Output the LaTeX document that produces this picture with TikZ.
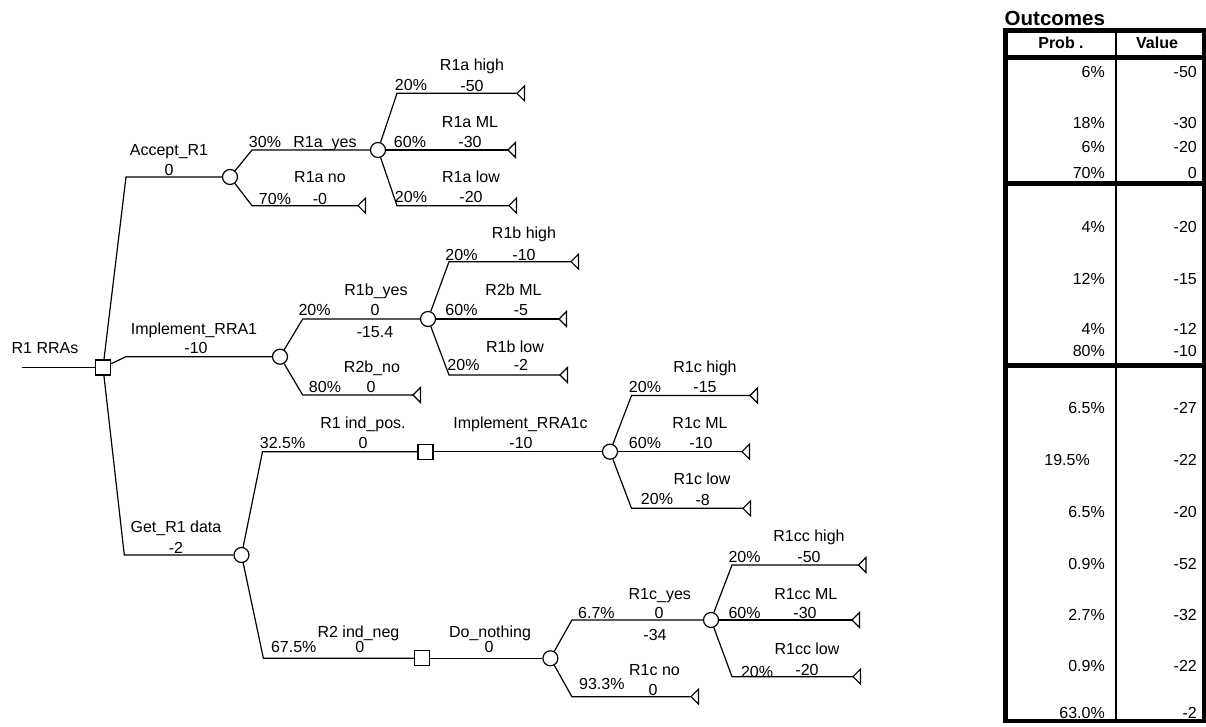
\documentclass[tikz,border=0pt]{standalone}
\usepackage{fontspec}
\setmainfont{Liberation Sans}
\usetikzlibrary{positioning}
\tikzset{
  branch/.style={line width=1.2pt, color=black},
  chance/.style={
    circle, draw, line width=1.2pt, fill=white,
    minimum size=15pt, inner sep=0pt
  },
  decision/.style={
    rectangle, draw, line width=1.2pt, fill=white,
    minimum size=15pt, inner sep=0pt
  },
  lbl/.style={
    font=\fontsize{16}{18}\selectfont, inner sep=0pt,
    text height=11.5pt, text depth=0pt
  },
  hdr/.style={lbl, font=\fontsize{16}{18}\selectfont\bfseries},
  cell/.style={lbl, anchor=east},
  term/.pic={\draw[line width=1.1pt] (0,0) -- (7.5,7.5) -- (7.5,-7.5) -- cycle;},
}
\begin{document}
\begin{tikzpicture}[x=1pt, y=-1pt]
  \useasboundingbox (0,0) rectangle (1206,727);

  % Root decision
  \node[lbl] (rtN) at (45,348) {R1 RRAs};
  \coordinate (rt) at (22,367.5);
  \node[decision] (s0) at (103,367.5) {};
  \draw[branch] (rt) -- (s0);

  % Accept_R1
  \coordinate (a0) at (126,177);
  \node[chance] (ca) at (230,177) {};
  \draw[branch] (s0) -- (a0) -- (ca);
  \node[lbl] (a0N) at (169,150) {Accept\_R1};
  \node[lbl] (a0V) at (169,170) {0};

  \coordinate (a1) at (252,150);
  \node[chance] (cb) at (378,150) {};
  \draw[branch] (ca) -- (a1) -- (cb);
  \node[lbl] (a1P) at (265,141.7) {30\%};
  \node[lbl] (a1N) at (325,141.7) {R1a\_yes};

  \coordinate (a2) at (252,205.7);
  \coordinate (ta2) at (358,205.7);
  \draw[branch] (ca) -- (a2) -- (ta2);
  \node[lbl] (a2P) at (275,199) {70\%};
  \node[lbl] (a2N) at (320,177) {R1a no};
  \node[lbl] (a2V) at (320,199) {-0};

  \coordinate (b1) at (397,93.3);
  \coordinate (tb1) at (517,93.3);
  \draw[branch] (cb) -- (b1) -- (tb1);
  \node[lbl] (b1P) at (411,85) {20\%};
  \node[lbl] (b1N) at (472,65) {R1a high};
  \node[lbl] (b1V) at (472,86) {-50};

  \coordinate (tb2) at (508,150);
  \draw[branch] (cb) -- (tb2);
  \node[lbl] (b2P) at (410,141.7) {60\%};
  \node[lbl] (b2N) at (470,121.7) {R1a ML};
  \node[lbl] (b2V) at (470,141.7) {-30};

  \coordinate (b3) at (397,205.7);
  \coordinate (tb3) at (509,205.7);
  \draw[branch] (cb) -- (b3) -- (tb3);
  \node[lbl] (b3P) at (411,197) {20\%};
  \node[lbl] (b3N) at (471,177) {R1a low};
  \node[lbl] (b3V) at (471,197) {-20};

  % Implement_RRA1
  \coordinate (m0) at (126,356.7);
  \node[chance] (cf) at (280,356.7) {};
  \draw[branch] (s0) -- (m0) -- (cf);
  \node[lbl] (m0N) at (194,329) {Implement\_RRA1};
  \node[lbl] (m0V) at (196,348) {-10};

  \coordinate (m1) at (302.7,319);
  \node[chance] (ce) at (428,319) {};
  \draw[branch] (cf) -- (m1) -- (ce);
  \node[lbl] (m1P) at (314.6,310) {20\%};
  \node[lbl] (m1N) at (376,290) {R1b\_yes};
  \node[lbl] (m1V) at (375,310) {0};
  \node[lbl] (m1R) at (375,331.7) {-15.4};

  \coordinate (m2) at (302.7,395);
  \coordinate (tm2) at (413,395);
  \draw[branch] (cf) -- (m2) -- (tm2);
  \node[lbl] (m2P) at (325,386.7) {80\%};
  \node[lbl] (m2N) at (372,366.7) {R2b\_no};
  \node[lbl] (m2V) at (371,386.7) {0};

  \coordinate (e1) at (449,261.7);
  \coordinate (te1) at (571,261.7);
  \draw[branch] (ce) -- (e1) -- (te1);
  \node[lbl] (e1P) at (461.5,255) {20\%};
  \node[lbl] (e1N) at (524,233) {R1b high};
  \node[lbl] (e1V) at (524,255) {-10};

  \coordinate (te2) at (559,319);
  \draw[branch] (ce) -- (te2);
  \node[lbl] (e2P) at (461.5,310) {60\%};
  \node[lbl] (e2N) at (513.5,290) {R2b ML};
  \node[lbl] (e2V) at (521,310) {-5};

  \coordinate (e3) at (449,375);
  \coordinate (te3) at (560,375);
  \draw[branch] (ce) -- (e3) -- (te3);
  \node[lbl] (e3P) at (463.5,365) {20\%};
  \node[lbl] (e3N) at (515,346.7) {R1b low};
  \node[lbl] (e3V) at (521,365) {-2};

  % Get_R1 data
  \coordinate (g0) at (124.3,555);
  \node[chance] (cd) at (241.5,555) {};
  \draw[branch] (s0) -- (g0) -- (cd);
  \node[lbl] (g0N) at (176,527) {Get\_R1 data};
  \node[lbl] (g0V) at (176,548) {-2};

  \coordinate (d1) at (262.5,451.7);
  \node[decision] (sq) at (425.4,451.7) {};
  \draw[branch] (cd) -- (d1) -- (sq);
  \node[lbl] (d1P) at (282.6,443) {32.5\%};
  \node[lbl] (d1N) at (363,423) {R1 ind\_pos.};
  \node[lbl] (d1V) at (363,443) {0};

  \node[chance] (cc) at (610,451.7) {};
  \draw[branch] (sq) -- (cc);
  \node[lbl] (q1N) at (520.5,423) {Implement\_RRA1c};
  \node[lbl] (q1V) at (521,443) {-10};

  \coordinate (c1) at (631.5,395.5);
  \coordinate (tc1) at (750,395.5);
  \draw[branch] (cc) -- (c1) -- (tc1);
  \node[lbl] (c1P) at (645,387) {20\%};
  \node[lbl] (c1N) at (705,367) {R1c high};
  \node[lbl] (c1V) at (705,387) {-15};

  \coordinate (tc2) at (742,451.7);
  \draw[branch] (cc) -- (tc2);
  \node[lbl] (c2P) at (645,443) {60\%};
  \node[lbl] (c2N) at (700,423) {R1c ML};
  \node[lbl] (c2V) at (701,443) {-10};

  \coordinate (c3) at (631.5,508.3);
  \coordinate (tc3) at (743,508.3);
  \draw[branch] (cc) -- (c3) -- (tc3);
  \node[lbl] (c3P) at (657,498.5) {20\%};
  \node[lbl] (c3N) at (702,479) {R1c low};
  \node[lbl] (c3V) at (702.7,500) {-8};

  \coordinate (d2) at (263.4,658.3);
  \node[decision] (sh) at (422,658.3) {};
  \draw[branch] (cd) -- (d2) -- (sh);
  \node[lbl] (d2P) at (293.7,646.7) {67.5\%};
  \node[lbl] (d2N) at (358.5,631.7) {R2 ind\_neg};
  \node[lbl] (d2V) at (359.8,646.7) {0};

  \node[chance] (ci) at (550.4,658.3) {};
  \draw[branch] (sh) -- (ci);
  \node[lbl] (h1N) at (490,631.7) {Do\_nothing};
  \node[lbl] (h1V) at (489,646.7) {0};

  \coordinate (i1) at (571.9,620);
  \node[chance] (cg) at (711,620) {};
  \draw[branch] (ci) -- (i1) -- (cg);
  \node[lbl] (i1P) at (596.4,612.5) {6.7\%};
  \node[lbl] (i1N) at (659.8,593.3) {R1c\_yes};
  \node[lbl] (i1V) at (659,612.5) {0};
  \node[lbl] (i1R) at (655,635) {-34};

  \coordinate (i2) at (571.9,696.7);
  \coordinate (ti2) at (691,696.7);
  \draw[branch] (ci) -- (i2) -- (ti2);
  \node[lbl] (i2P) at (601.8,683.3) {93.3\%};
  \node[lbl] (i2N) at (654.5,669.3) {R1c no};
  \node[lbl] (i2V) at (653,690) {0};

  \coordinate (k1) at (732,565);
  \coordinate (tk1) at (858.5,565);
  \draw[branch] (cg) -- (k1) -- (tk1);
  \node[lbl] (k1P) at (744.6,556.7) {20\%};
  \node[lbl] (k1N) at (809,535.7) {R1cc high};
  \node[lbl] (k1V) at (809,556.7) {-50};

  \coordinate (tk2) at (852,620);
  \draw[branch] (cg) -- (tk2);
  \node[lbl] (k2P) at (744.6,612.7) {60\%};
  \node[lbl] (k2N) at (805.8,593.3) {R1cc ML};
  \node[lbl] (k2V) at (805,612.7) {-30};

  \coordinate (k3) at (732,676.7);
  \coordinate (tk3) at (853,676.7);
  \draw[branch] (cg) -- (k3) -- (tk3);
  \node[lbl] (k3P) at (757,671.7) {20\%};
  \node[lbl] (k3N) at (807,649) {R1cc low};
  \node[lbl] (k3V) at (807,669.3) {-20};

  % Terminal triangles
  \foreach \t in {ta2,tb1,tb2,tb3,tm2,te1,te2,te3,tc1,tc2,tc3,ti2,tk1,tk2,tk3}
    \pic at (\t) {term};

  % Outcomes table
  \node[font=\fontsize{20.5}{24}\selectfont\bfseries, inner sep=0pt,
        text height=14.7pt, text depth=0pt, anchor=west] (outT) at (1004.5,18.5) {Outcomes};
  \draw[line width=4.5pt] (1005.5,30.5) rectangle (1204,721);
  \draw[line width=1.6pt] (1115.7,30.5) -- (1115.7,721);
  \draw[line width=5pt] (1005.5,58) -- (1204,58);
  \draw[line width=5pt] (1005.5,184) -- (1204,184);
  \draw[line width=5pt] (1005.5,365) -- (1204,365);
  \node[hdr] (hP) at (1061,42.5) {Prob .};
  \node[hdr] (hV) at (1157,42.5) {Value};

  \foreach \y/\x/\p/\v [count=\i] in {72/1105/6\%/-50, 122.3/1105/18\%/-30,
      146.7/1105/6\%/-20, 172.3/1105/70\%/0, 226.7/1105/4\%/-20,
      278.3/1105/12\%/-15, 328.3/1105/4\%/-12, 350.5/1105/80\%/-10,
      407.3/1105/6.5\%/-27, 459.5/1090/19.5\%/-22, 511.5/1105/6.5\%/-20,
      564/1105/0.9\%/-52, 614.5/1105/2.7\%/-32, 666/1105/0.9\%/-22,
      713/1105/63.0\%/-2} {
    \node[cell] (p\i) at (\x,\y) {\p};
    \node[cell] (v\i) at (1197,\y) {\v};
  }
\end{tikzpicture}
\end{document}
